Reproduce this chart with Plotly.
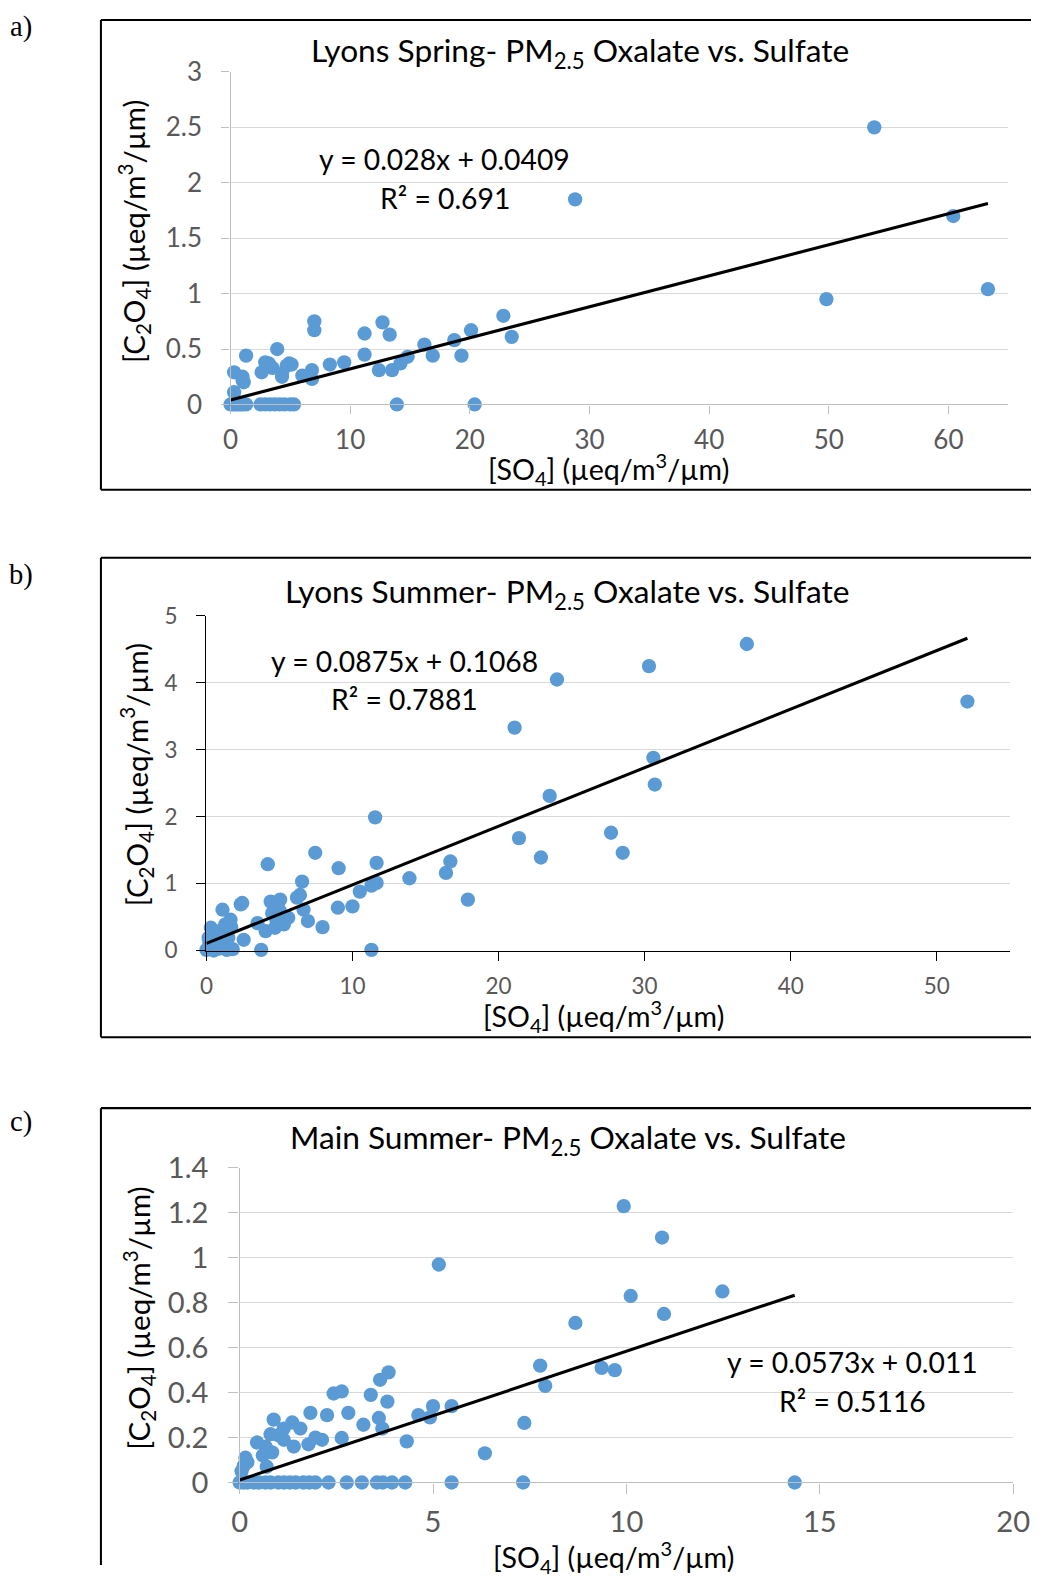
import plotly.graph_objects as go

W, H = 1048, 1581

# ---------------- data ----------------
# Panel a: Lyons Spring
a_x = [0.0, 0.2, 0.4, 0.6, 0.8, 1.0, 1.3, 2.5, 2.9, 3.3, 3.7, 4.1, 4.5, 5.0, 5.3, 13.9, 20.4,
       0.3, 0.3, 1.0, 1.1, 1.0, 1.3, 2.6, 2.9, 3.2, 3.9, 4.3, 4.3, 3.5, 4.9, 5.1, 4.7, 6.0, 6.8, 6.8,
       7.0, 7.0, 8.3, 9.5, 11.2, 11.2, 12.4, 12.7, 13.3, 13.5, 14.2, 14.8, 16.2, 16.9, 18.7, 19.3,
       20.1, 22.8, 23.5, 28.8, 49.8, 53.8, 60.4, 63.3]
a_y = [0, 0, 0, 0, 0, 0, 0, 0, 0, 0, 0, 0, 0, 0, 0, 0, 0,
       0.11, 0.29, 0.25, 0.20, 0.22, 0.44, 0.29, 0.38, 0.37, 0.50, 0.28, 0.25, 0.33, 0.37, 0.36, 0.35, 0.26, 0.31, 0.23,
       0.75, 0.67, 0.36, 0.38, 0.64, 0.45, 0.31, 0.74, 0.63, 0.31, 0.37, 0.43, 0.54, 0.44, 0.58, 0.44,
       0.67, 0.80, 0.61, 1.85, 0.95, 2.50, 1.70, 1.04]
a_fit = (0.028, 0.0409)

# Panel b: Lyons Summer
b_x = [0.0, 0.15, 0.3, 0.35, 0.6, 0.5, 0.8, 1.1, 1.3, 1.4, 1.5, 1.65, 1.0, 0.2, 0.3, 0.7, 1.2, 0.9, 1.7, 1.8, 0.5,
       2.35, 2.45, 2.55, 3.5, 3.75, 4.05, 4.2, 4.4, 4.5, 4.7, 5.05, 5.3, 5.6, 4.8, 5.0,
       6.2, 6.4, 6.55, 6.65, 6.95, 7.45, 7.95, 9.0, 9.05, 10.0, 10.5, 11.3, 11.3, 11.55, 11.65, 11.65,
       13.9, 16.4, 16.7, 17.9, 21.1, 21.4, 22.9, 23.5, 24.0, 27.7, 28.5, 30.3, 30.6, 30.7, 37.0, 52.1]
b_y = [0.01, 0.19, 0.34, 0.06, 0.27, 0.0, 0.10, 0.61, 0.39, 0.01, 0.19, 0.46, 0.30, 0.12, 0.05, 0.20, 0.25, 0.03, 0.35, 0.02, 0.15,
       0.69, 0.71, 0.16, 0.41, 0.01, 0.29, 1.29, 0.73, 0.56, 0.34, 0.76, 0.39, 0.49, 0.45, 0.60,
       0.79, 0.83, 1.03, 0.61, 0.44, 1.46, 0.35, 0.64, 1.23, 0.66, 0.88, 0.97, 0.01, 1.99, 1.31, 1.01,
       1.08, 1.16, 1.33, 0.76, 3.33, 1.68, 1.39, 2.31, 4.05, 1.76, 1.46, 4.25, 2.88, 2.48, 4.58, 3.72]
b_fit = (0.0875, 0.1068)

# Panel c: Main Summer
c_x = [0.0, 0.1, 0.2, 0.37, 0.5, 0.67, 0.8, 1.0, 1.15, 1.3, 1.45, 1.65, 1.8, 1.96, 2.3, 2.77, 3.16, 3.55, 3.7,
       3.94, 4.28, 5.48, 7.33, 14.35,
       0.11, 0.15, 0.05, 0.2, 0.45, 0.67, 0.7, 0.8, 0.84, 0.88, 0.6, 1.0, 1.14, 1.14, 1.36, 1.4, 1.57, 1.78,
       1.83, 1.96, 2.13, 2.26, 2.43, 2.64, 2.64, 2.81, 3.2, 3.39, 3.6, 3.63, 3.69, 3.82, 3.85, 4.32, 4.62,
       4.92, 5.0, 5.15, 5.48, 6.34, 7.36, 7.77, 7.9, 8.68, 9.36, 9.7, 9.93, 10.11, 10.92, 10.97, 12.48]
c_y = [0, 0, 0, 0, 0, 0, 0, 0, 0, 0, 0, 0, 0, 0, 0, 0, 0, 0, 0,
       0, 0, 0, 0, 0,
       0.075, 0.11, 0.05, 0.09, 0.178, 0.16, 0.07, 0.215, 0.134, 0.28, 0.12, 0.21, 0.24, 0.19, 0.267, 0.16, 0.24, 0.17,
       0.31, 0.20, 0.19, 0.30, 0.396, 0.405, 0.198, 0.31, 0.257, 0.39, 0.287, 0.457, 0.24, 0.36, 0.49, 0.183, 0.30,
       0.29, 0.34, 0.97, 0.34, 0.13, 0.265, 0.52, 0.43, 0.71, 0.51, 0.50, 1.23, 0.83, 1.09, 0.75, 0.85]
c_fit = (0.0573, 0.011)

titles = ["Lyons Spring- PM<sub>2.5</sub> Oxalate vs. Sulfate",
          "Lyons Summer- PM<sub>2.5</sub> Oxalate vs. Sulfate",
          "Main Summer- PM<sub>2.5</sub> Oxalate vs. Sulfate"]
equations = [("y = 0.028x + 0.0409", "R² = 0.691"),
             ("y = 0.0875x + 0.1068", "R² = 0.7881"),
             ("y = 0.0573x + 0.011", "R² = 0.5116")]
panel_labels = ["a)", "b)", "c)"]
x_title = "[SO<sub>4</sub>] (µeq/m<sup>3</sup>/µm)"
y_title = "[C<sub>2</sub>O<sub>4</sub>] (µeq/m<sup>3</sup>/µm)"

# ---------------- layout helpers ----------------
# the photographed page shows the figure slightly scaled and offset; positions below
# are given in the target picture's pixels and mapped back to figure pixels.
S = 0.979
OFFX, OFFY = 6.8, 16.6


def fx(X):
    return min(max((X - OFFX) / S, 0), W) / W


def fy(Y):
    return 1 - min(max((Y - OFFY) / S, 1), H) / H


def fs(size):
    return size / S


FONT = "Lato"
BLUE = "#5B9BD5"
TICKC = "#595959"

fig = go.Figure()

panels = [
    dict(x=a_x, y=a_y, fit=a_fit, xr=[0, 65], yr=[0, 3], dx=10, dy=0.5,
         xd=[230, 1010], yd=[402.5, 69.6], axc="#BFBFBF", tickfs=25.5, tlen=8,
         xst=4, yst=14,
         title_xy=(580, 50), eq_xy=(445, 157), r2_xy=(445, 196),
         yt_xy=(133, 229), xt_xy=(609, 467), lab_xy=(20, 25),
         box=dict(top=8, bottom=488, left=100)),
    dict(x=b_x, y=b_y, fit=b_fit, xr=[0, 55], yr=[0, 5], dx=10, dy=1,
         xd=[205.8, 1011.5], yd=[949.2, 614.2], axc="#000000", tickfs=22, tlen=9,
         xst=6, yst=14,
         title_xy=(568, 592), eq_xy=(404, 659), r2_xy=(404, 697),
         yt_xy=(136, 773), xt_xy=(604, 1015), lab_xy=(20, 573),
         box=dict(top=556, bottom=1036, left=100)),
    dict(x=c_x, y=c_y, fit=c_fit, xr=[0, 20], yr=[0, 1.4], dx=5, dy=0.2,
         xd=[239.1, 1015], yd=[1481.8, 1166.8], axc="#BFBFBF", tickfs=28.5, tlen=10,
         xst=3, yst=14,
         title_xy=(568, 1138), eq_xy=(854, 1361), r2_xy=(854, 1400),
         yt_xy=(139, 1317), xt_xy=(614, 1556), lab_xy=(20, 1121),
         box=dict(top=1107, bottom=None, left=100)),
]

annotations = []
shapes = []

for i, p in enumerate(panels):
    n = "" if i == 0 else str(i + 1)
    xa, ya = "x" + n, "y" + n
    fig.add_trace(go.Scatter(x=p["x"], y=p["y"], mode="markers", xaxis=xa, yaxis=ya,
                             marker=dict(color=BLUE, size=fs(14), line=dict(width=0)),
                             showlegend=False, cliponaxis=False, hoverinfo="skip"))
    xs = [min(p["x"]), max(p["x"])]
    m, b = p["fit"]
    fig.add_trace(go.Scatter(x=xs, y=[m * v + b for v in xs], mode="lines", xaxis=xa, yaxis=ya,
                             line=dict(color="black", width=fs(3)), showlegend=False,
                             hoverinfo="skip"))

    axis_common = dict(showline=True, linecolor=p["axc"], linewidth=fs(1.3),
                       ticks="outside", tickcolor=p["axc"], ticklen=p["tlen"] / S, tickwidth=fs(1.3),
                       tickfont=dict(family=FONT, size=fs(p["tickfs"]), color=TICKC),
                       zeroline=False, fixedrange=True)
    fig.update_layout(**{
        ("xaxis" + n): dict(domain=[fx(p["xd"][0]), fx(p["xd"][1])], range=p["xr"], dtick=p["dx"],
                            tick0=0, showgrid=False, anchor=ya, ticklabelstandoff=p["xst"],
                            **axis_common),
        ("yaxis" + n): dict(domain=[fy(p["yd"][0]), fy(p["yd"][1])], range=p["yr"], dtick=p["dy"],
                            tick0=0, showgrid=True, gridcolor="#D9D9D9", gridwidth=fs(1.3), anchor=xa,
                            ticklabelstandoff=p["yst"], **axis_common),
    })

    def ann(text, xy, size, color="black", family=FONT, angle=0):
        annotations.append(dict(text=text, x=fx(xy[0]), y=fy(xy[1]), xref="paper", yref="paper",
                                xanchor="center", yanchor="middle", showarrow=False,
                                textangle=angle, font=dict(family=family, size=fs(size), color=color)))

    ann(titles[i], p["title_xy"], 31)
    ann(equations[i][0], p["eq_xy"], 27.7)
    ann(equations[i][1], p["r2_xy"], 27.7)
    ann(y_title, p["yt_xy"], 28.8, angle=-90)
    ann(x_title, p["xt_xy"], 28)
    ann(panel_labels[i], p["lab_xy"], 28, family="Liberation Serif")

    bx = p["box"]
    lw = fs(2)
    top, bottom, left = bx["top"], bx["bottom"], bx["left"]
    ybot = bottom if bottom is not None else H + 40
    shapes.append(dict(type="line", xref="paper", yref="paper", x0=fx(left), x1=1,
                       y0=fy(top), y1=fy(top), line=dict(color="black", width=lw)))
    shapes.append(dict(type="line", xref="paper", yref="paper", x0=fx(left), x1=fx(left),
                       y0=fy(top), y1=fy(ybot), line=dict(color="black", width=lw)))
    if bottom is not None:
        shapes.append(dict(type="line", xref="paper", yref="paper", x0=fx(left), x1=1,
                           y0=fy(bottom), y1=fy(bottom), line=dict(color="black", width=lw)))

fig.update_layout(width=W, height=H, margin=dict(l=0, r=0, t=0, b=0),
                  paper_bgcolor="white", plot_bgcolor="white",
                  annotations=annotations, shapes=shapes, showlegend=False)

fig.write_html("out.html", config={"displayModeBar": False},
               post_script="document.body.style.margin='0';document.body.style.overflow='hidden';")
